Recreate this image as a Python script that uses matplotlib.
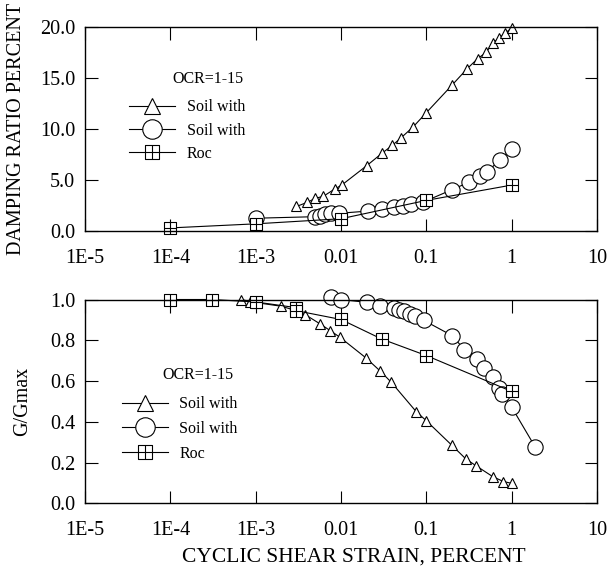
import matplotlib
matplotlib.use("Agg")
import matplotlib.pyplot as plt
from matplotlib.path import Path
from matplotlib.lines import Line2D

plt.rcParams['font.family'] = ['Liberation Serif', 'DejaVu Serif']

# damping ratio (%) vs cyclic shear strain (%)
damp_tri_x = [0.003, 0.004, 0.005, 0.0062, 0.0084, 0.0102, 0.02, 0.03, 0.04, 0.05,
              0.07, 0.1, 0.2, 0.3, 0.4, 0.5, 0.6, 0.72, 0.84, 1.0]
damp_tri_y = [2.4, 2.8, 3.2, 3.4, 4.1, 4.5, 6.4, 7.6, 8.4, 9.1,
              10.2, 11.6, 14.3, 15.9, 16.9, 17.5, 18.4, 18.95, 19.4, 19.9]

damp_cir_x = [0.001, 0.0049, 0.0056, 0.0065, 0.0076, 0.0094, 0.0206, 0.0303, 0.0416,
              0.053, 0.0664, 0.091, 0.2, 0.32, 0.42, 0.52, 0.73, 1.0]
damp_cir_y = [1.25, 1.4, 1.49, 1.63, 1.73, 1.73, 1.95, 2.12, 2.31,
              2.44, 2.63, 2.82, 4.05, 4.8, 5.4, 5.8, 7.0, 8.05]

damp_roc_x = [1e-4, 1e-3, 1e-2, 1e-1, 1.0]
damp_roc_y = [0.3, 0.7, 1.2, 3.0, 4.5]

# normalised shear modulus vs cyclic shear strain (%)
mod_tri_x = [0.00068, 0.00086, 0.001, 0.002, 0.003, 0.0038, 0.0057, 0.0075, 0.0097,
             0.0194, 0.029, 0.039, 0.076, 0.1, 0.2, 0.29, 0.38, 0.6, 0.8, 1.0]
mod_tri_y = [1.0, 0.99, 0.985, 0.967, 0.945, 0.926, 0.88, 0.847, 0.815,
             0.715, 0.648, 0.593, 0.45, 0.405, 0.284, 0.218, 0.185, 0.131, 0.107, 0.098]

mod_cir_x = [0.0077, 0.0099, 0.02, 0.029, 0.042, 0.048, 0.055, 0.064, 0.073, 0.093,
             0.2, 0.28, 0.39, 0.48, 0.61, 0.72, 0.78, 1.0, 1.9]
mod_cir_y = [1.01, 1.0, 0.986, 0.97, 0.958, 0.95, 0.942, 0.93, 0.918, 0.898,
             0.823, 0.754, 0.708, 0.664, 0.62, 0.566, 0.538, 0.472, 0.274]

mod_roc_x = [1e-4, 3.07e-4, 1e-3, 0.003, 0.003, 0.01, 0.03, 0.1, 1.0]
mod_roc_y = [1.0, 1.0, 0.988, 0.96, 0.945, 0.902, 0.806, 0.725, 0.549]

x_ticks = [1e-5, 1e-4, 1e-3, 1e-2, 1e-1, 1, 10]
x_labels = ['1E-5', '1E-4', '1E-3', '0.01', '0.1', '1', '10']
legend_labels = ['Soil with', 'Soil with', 'Roc']
legend_title = 'OCR=1-15'

# boxed-cross marker for the rock curve
boxplus = Path(
    [(-1, -1), (1, -1), (1, 1), (-1, 1), (-1, -1), (0, -1), (0, 1), (-1, 0), (1, 0)],
    [Path.MOVETO, Path.LINETO, Path.LINETO, Path.LINETO, Path.CLOSEPOLY,
     Path.MOVETO, Path.LINETO, Path.MOVETO, Path.LINETO])

lw = 0.8
styles = [dict(marker='^', ms=7.5, mew=0.8),
          dict(marker='o', ms=11, mew=0.8),
          dict(marker=boxplus, ms=8, mew=0.8)]
leg_sizes = [11, 14, 9.5]


def draw_panel(ax, series, ylim, yticks, ylabels, ylabel, ylabelpad,
               ocr_xy, leg_xy, leg_spacing):
    for (x, y), st in zip(series, styles):
        ax.plot(x, y, color='black', lw=lw, mfc='white', mec='black',
                clip_on=False, **st)
    ax.set_xscale('log')
    ax.set_xlim(1e-5, 10)
    ax.set_ylim(*ylim)
    ax.set_xticks(x_ticks)
    ax.set_xticklabels(x_labels)
    ax.minorticks_off()
    ax.set_yticks(yticks)
    ax.set_yticklabels(ylabels)
    ax.tick_params(direction='in', length=9, width=0.8, top=True, right=True,
                   labelsize=14.5)
    ax.tick_params(axis='x', pad=13)
    ax.tick_params(axis='y', pad=7)
    for sp in ax.spines.values():
        sp.set_linewidth(1.0)
    ax.set_ylabel(ylabel, fontsize=14.5, labelpad=ylabelpad)

    handles = [Line2D([], [], color='black', lw=lw, mfc='white', mec='black',
                      marker=st['marker'], ms=s, mew=0.8)
               for st, s in zip(styles, leg_sizes)]
    ax.legend(handles, legend_labels, loc='center left', bbox_to_anchor=leg_xy,
              frameon=False, fontsize=11.5, borderpad=0, borderaxespad=0,
              handlelength=2.9, handletextpad=0.7, labelspacing=leg_spacing,
              numpoints=1)
    ax.text(ocr_xy[0], ocr_xy[1], legend_title, transform=ax.transAxes,
            fontsize=11.5, va='center', ha='left')


fig = plt.figure(figsize=(6.09, 5.73), dpi=100)
ax_top = fig.add_axes([0.1396, 0.5969, 0.8407, 0.3560])
ax_bot = fig.add_axes([0.1396, 0.1216, 0.8407, 0.3557])

draw_panel(ax_top,
           [(damp_tri_x, damp_tri_y), (damp_cir_x, damp_cir_y), (damp_roc_x, damp_roc_y)],
           (0, 20), [0, 5, 10, 15, 20], ['0.0', '5.0', '10.0', '15.0', '20.0'],
           'DAMPING RATIO PERCENT', 10, (0.17, 0.745), (0.086, 0.492), 0.45)

draw_panel(ax_bot,
           [(mod_tri_x, mod_tri_y), (mod_cir_x, mod_cir_y), (mod_roc_x, mod_roc_y)],
           (0, 1.0), [0, 0.2, 0.4, 0.6, 0.8, 1.0],
           ['0.0', '0.2', '0.4', '0.6', '0.8', '1.0'],
           'G/Gmax', 13, (0.152, 0.628), (0.072, 0.365), 0.55)
ax_bot.set_xlabel('CYCLIC SHEAR STRAIN, PERCENT', fontsize=15.5, labelpad=5, x=0.525)

fig.savefig('out.png', dpi=100)
